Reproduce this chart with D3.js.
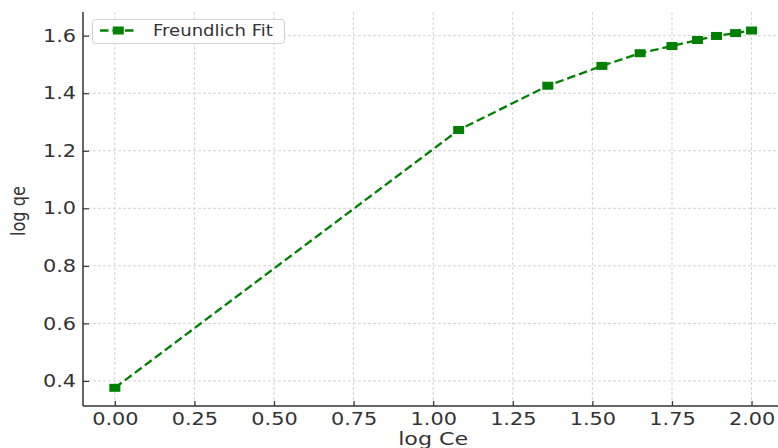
<!DOCTYPE html>
<html>
<head>
<meta charset="utf-8">
<script src="https://cdn.jsdelivr.net/npm/d3@7"></script>
<style>
  html, body { margin: 0; padding: 0; background: #fff; }
  svg { display: block; font-family: "DejaVu Sans", sans-serif; }
</style>
</head>
<body>
<svg id="chart" width="778" height="448"></svg>
<script>
const logCe = [0.00, 1.08, 1.36, 1.53, 1.65, 1.75, 1.83, 1.89, 1.95, 2.00];
const logQe = [0.376, 1.272, 1.426, 1.495, 1.539, 1.564, 1.585, 1.599, 1.609, 1.618];
const xTicks = [0.00, 0.25, 0.50, 0.75, 1.00, 1.25, 1.50, 1.75, 2.00];
const yTicks = [0.4, 0.6, 0.8, 1.0, 1.2, 1.4, 1.6];
const seriesName = "Freundlich Fit";
const xLabel = "log Ce";
const yLabel = "log qe";

(function () {
const W = 778, H = 448;
const pL = 83, pR = 783.4, pT = 12, pB = 406;
const SX = 1.17; // horizontal text stretch seen in reference

const svg = d3.select("#chart");
const x = d3.scaleLinear().domain([-0.1, 2.1]).range([pL, pR]);
const y = d3.scaleLinear().domain([0.3128, 1.6823]).range([pB, pT]);

const gridColor = "#d3d3d3";
const axisColor = "#333";
const green = "#008000";

// grid
const grid = svg.append("g");
grid.selectAll("line.vx").data(xTicks).join("line")
  .attr("x1", d => x(d)).attr("x2", d => x(d))
  .attr("y1", pT).attr("y2", pB)
  .attr("stroke", gridColor).attr("stroke-width", 1).attr("stroke-dasharray", "3,2");
grid.selectAll("line.hy").data(yTicks).join("line")
  .attr("x1", pL).attr("x2", W)
  .attr("y1", d => y(d)).attr("y2", d => y(d))
  .attr("stroke", gridColor).attr("stroke-width", 1).attr("stroke-dasharray", "3,2");

// axes
const xAxis = d3.axisBottom(x).tickValues(xTicks).tickFormat(d3.format(".2f"))
  .tickSizeInner(-5).tickSizeOuter(0).tickPadding(6.4);
const gx = svg.append("g").attr("transform", `translate(0,${pB})`).call(xAxis);
gx.select(".domain").attr("stroke", axisColor).attr("stroke-width", 1.5).attr("d", `M${pL},0H${W}`);
gx.selectAll(".tick line").attr("stroke", axisColor).attr("stroke-width", 1.2);
gx.selectAll(".tick text").attr("fill", axisColor).attr("font-size", 17.8)
  .attr("font-family", "DejaVu Sans").attr("transform", `scale(${SX},1)`);

const yAxis = d3.axisLeft(y).tickValues(yTicks).tickFormat(d3.format(".1f"))
  .tickSizeInner(-6).tickSizeOuter(0).tickPadding(7);
const gy = svg.append("g").attr("transform", `translate(${pL},0)`).call(yAxis);
gy.select(".domain").attr("stroke", axisColor).attr("stroke-width", 1.5).attr("d", `M0,${pT}V${pB}`);
gy.selectAll(".tick line").attr("stroke", axisColor).attr("stroke-width", 1.2);
gy.selectAll(".tick text").attr("fill", axisColor).attr("font-size", 17.8)
  .attr("font-family", "DejaVu Sans").attr("x", -7 / SX).attr("transform", `scale(${SX},1)`);

// axis labels
svg.append("text")
  .attr("transform", `translate(${(pL + pR) / 2},445) scale(1.27,1)`)
  .attr("text-anchor", "middle").attr("font-size", 17.5).attr("fill", axisColor)
  .text(xLabel);
svg.append("text")
  .attr("transform", `translate(25,211) scale(1.25,1) rotate(-90)`)
  .attr("text-anchor", "middle").attr("font-size", 16.2).attr("fill", axisColor)
  .text(yLabel);

// data
const pts = logCe.map((c, i) => [c, logQe[i]]);
svg.append("path").datum(pts)
  .attr("fill", "none").attr("stroke", green).attr("stroke-width", 2.3)
  .attr("stroke-dasharray", "8.5,4")
  .attr("d", d3.line().x(d => x(d[0])).y(d => y(d[1])));
const mw = 11, mh = 8;
svg.selectAll("rect.m").data(pts).join("rect")
  .attr("x", d => x(d[0]) - mw / 2).attr("y", d => y(d[1]) - mh / 2)
  .attr("width", mw).attr("height", mh).attr("fill", green);

// legend
const lg = svg.append("g");
lg.append("rect").attr("x", 92.5).attr("y", 19.5).attr("width", 192).attr("height", 24)
  .attr("rx", 3).attr("fill", "white").attr("fill-opacity", 0.85)
  .attr("stroke", "#d0d0d0").attr("stroke-width", 1);
lg.append("line").attr("x1", 100).attr("x2", 137).attr("y1", 30.5).attr("y2", 30.5)
  .attr("stroke", green).attr("stroke-width", 2.3).attr("stroke-dasharray", "8.5,4");
lg.append("rect").attr("x", 118.3 - mw / 2).attr("y", 30.5 - mh / 2)
  .attr("width", mw).attr("height", mh).attr("fill", green);
lg.append("text").attr("transform", `translate(153,36) scale(1.166,1)`)
  .attr("font-size", 15.5).attr("fill", axisColor).text(seriesName);
})();
</script>
</body>
</html>
